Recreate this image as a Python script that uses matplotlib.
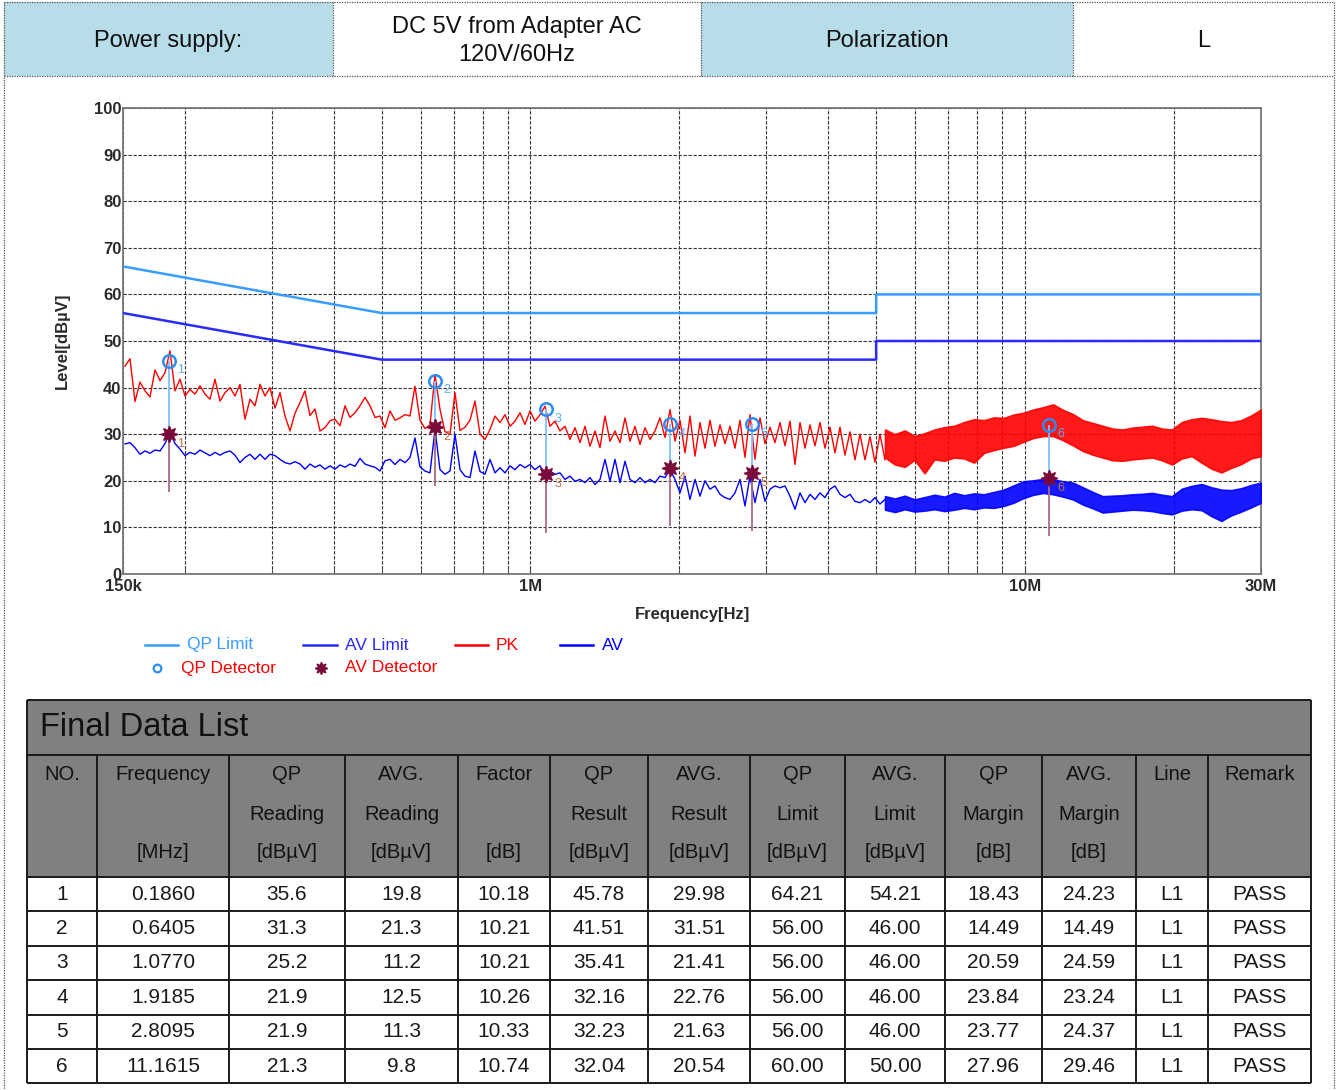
import numpy as np
import matplotlib
matplotlib.use("Agg")
import matplotlib.pyplot as plt
from matplotlib.patches import Rectangle
from matplotlib.ticker import FixedLocator, NullFormatter

plt.rcParams['font.family'] = ['Liberation Sans', 'DejaVu Sans']

# ---------------- data ----------------
header_labels = ["Power supply:", "DC 5V from Adapter AC\n120V/60Hz", "Polarization", "L"]

qp_limit_freq = [0.15, 0.5, 5.0, 5.0, 30.0]
qp_limit_level = [66, 56, 56, 60, 60]
av_limit_freq = [0.15, 0.5, 5.0, 5.0, 30.0]
av_limit_level = [56, 46, 46, 50, 50]

# log sweep of the analyser (MHz)
sweep_start_mhz = 0.1514
sweep_split_mhz = 5.21
sweep_stop_mhz = 30.0

pk_trace = [44.6, 46.2, 37.0, 41.2, 39.3, 38.0, 43.8, 41.5, 43.2, 47.9,
            39.3, 41.8, 38.2, 39.6, 38.6, 40.4, 38.6, 37.5, 41.8, 37.1,
            38.9, 40.0, 38.2, 40.7, 33.2, 37.5, 36.1, 40.7, 38.2, 40.0,
            35.6, 38.9, 33.9, 30.7, 34.5, 36.8, 39.3, 34.0, 35.4, 30.7,
            31.4, 32.9, 33.2, 31.8, 36.1, 33.6, 34.6, 36.1, 37.9, 36.1,
            33.6, 33.9, 31.4, 35.0, 33.0, 33.5, 34.2, 33.9, 40.3, 33.0,
            31.2, 32.0, 42.8, 35.3, 30.5, 30.0, 38.9, 30.8, 31.5, 33.0,
            37.1, 30.0, 28.9, 31.0, 33.9, 32.5, 34.2, 31.7, 32.8, 34.6,
            32.1, 35.0, 32.8, 34.2, 36.0, 31.7, 32.8, 30.7, 31.7, 28.9,
            31.4, 28.2, 31.7, 27.4, 30.7, 27.1, 33.9, 28.5, 30.7, 28.2,
            33.5, 28.5, 31.7, 27.8, 31.4, 28.9, 30.7, 33.5, 29.3, 35.3,
            28.5, 33.0, 26.0, 33.9, 25.3, 32.5, 27.0, 33.0, 27.4, 32.0,
            28.0, 31.7, 27.0, 33.0, 25.0, 34.2, 24.6, 33.5, 28.0, 31.5,
            28.2, 32.5, 27.5, 32.8, 23.5, 32.5, 27.0, 32.0, 27.5, 32.5,
            27.0, 31.5, 26.0, 31.5, 25.5, 30.5, 24.5, 30.0, 24.5, 29.5,
            24.0, 30.0, 24.5]

av_trace = [27.9, 28.2, 27.1, 25.7, 26.4, 25.9, 26.6, 26.4, 28.0, 30.4,
            28.0, 26.8, 25.4, 26.1, 25.7, 26.6, 26.0, 25.4, 26.1, 25.5,
            26.1, 26.4, 25.5, 23.9, 25.0, 25.7, 24.6, 25.7, 24.6, 25.7,
            25.4, 24.6, 23.9, 23.6, 24.1, 23.6, 22.5, 23.6, 22.9, 23.4,
            22.5, 23.2, 22.5, 23.4, 22.9, 23.6, 23.1, 24.8, 23.6, 23.2,
            22.9, 22.1, 24.3, 24.6, 23.5, 24.6, 23.9, 25.0, 29.2, 23.0,
            22.1, 21.7, 31.0, 22.4, 21.4, 22.1, 30.0, 22.4, 21.0, 20.7,
            26.4, 22.0, 21.4, 24.6, 21.7, 22.8, 21.7, 23.2, 22.4, 23.5,
            22.8, 23.5, 22.4, 23.2, 21.5, 22.1, 21.4, 21.7, 20.3, 21.0,
            19.9, 20.3, 19.6, 20.7, 19.2, 20.3, 24.6, 19.9, 24.6, 19.6,
            24.2, 20.3, 19.6, 20.7, 19.6, 20.3, 19.6, 21.0, 20.7, 22.4,
            20.3, 17.4, 21.0, 16.0, 20.3, 16.7, 20.0, 18.2, 18.9, 17.1,
            16.4, 16.0, 17.4, 20.3, 14.6, 21.0, 15.3, 20.3, 15.6, 18.2,
            18.9, 18.5, 18.9, 16.7, 13.9, 17.4, 15.3, 17.1, 16.0, 17.4,
            16.4, 18.2, 18.9, 17.1, 16.4, 17.1, 15.6, 15.3, 16.0, 15.3,
            16.4, 15.0, 16.0]

pk_band_hi = [31.0, 30.0, 30.8, 29.6, 30.2, 31.0, 31.5, 31.8, 32.6, 33.2,
              33.0, 33.6, 33.5, 34.2, 34.6, 35.3, 35.8, 36.4, 35.2, 34.3,
              33.0, 32.4, 31.8, 31.2, 31.0, 31.4, 31.6, 31.8, 31.2, 31.0,
              32.6, 33.2, 33.5, 33.2, 32.8, 32.6, 33.0, 34.0, 35.3]
pk_band_lo = [25.0, 23.5, 23.0, 24.5, 21.6, 24.6, 24.3, 25.0, 24.8, 23.9,
              26.0, 26.6, 27.1, 27.5, 28.4, 29.2, 29.6, 29.6, 28.7, 27.6,
              26.4, 25.6, 25.0, 24.4, 24.3, 24.6, 24.8, 25.0, 24.4, 23.5,
              24.8, 25.3, 23.9, 22.6, 21.8, 22.8, 23.6, 24.8, 25.3]
av_band_hi = [16.7, 16.2, 16.8, 16.0, 16.5, 17.0, 16.6, 17.4, 16.9, 17.3,
              17.1, 17.6, 18.1, 19.0, 19.9, 20.1, 20.4, 20.3, 19.9, 19.6,
              18.6, 17.6, 16.7, 16.8, 16.9, 17.1, 17.2, 17.4, 17.0, 16.7,
              18.3, 18.9, 19.3, 18.6, 18.1, 18.0, 18.4, 19.1, 19.6]
av_band_lo = [13.8, 13.3, 13.9, 13.4, 13.6, 13.9, 13.5, 13.8, 14.2, 13.9,
              14.3, 14.2, 14.6, 15.3, 16.3, 17.0, 17.4, 17.1, 16.6, 16.0,
              14.9, 14.1, 13.2, 13.4, 13.6, 13.8, 13.7, 13.5, 13.1, 12.8,
              13.6, 13.9, 13.7, 12.4, 11.4, 12.6, 13.4, 14.3, 15.3]

det_no = [1, 2, 3, 4, 5, 6]
det_freq = [0.1860, 0.6405, 1.0770, 1.9185, 2.8095, 11.1615]
qp_reading = [35.6, 31.3, 25.2, 21.9, 21.9, 21.3]
av_reading = [19.8, 21.3, 11.2, 12.5, 11.3, 9.8]
factor = [10.18, 10.21, 10.21, 10.26, 10.33, 10.74]
qp_result = [45.78, 41.51, 35.41, 32.16, 32.23, 32.04]
av_result = [29.98, 31.51, 21.41, 22.76, 21.63, 20.54]
qp_limit_pt = [64.21, 56.00, 56.00, 56.00, 56.00, 60.00]
av_limit_pt = [54.21, 46.00, 46.00, 46.00, 46.00, 50.00]
qp_margin = [18.43, 14.49, 20.59, 23.84, 23.77, 27.96]
av_margin = [24.23, 14.49, 24.59, 23.24, 24.37, 29.46]
line_name = ["L1", "L1", "L1", "L1", "L1", "L1"]
remark = ["PASS", "PASS", "PASS", "PASS", "PASS", "PASS"]
stem_bottom = [17.5, 18.9, 8.9, 10.3, 9.2, 8.2]

y_ticks = [0, 10, 20, 30, 40, 50, 60, 70, 80, 90, 100]
x_major = [0.15, 1, 10, 30]
x_major_labels = ["150k", "1M", "10M", "30M"]
x_minor = [0.2, 0.3, 0.4, 0.5, 0.6, 0.7, 0.8, 0.9, 2, 3, 4, 5, 6, 7, 8, 9, 20]

table_headers = [["NO.", "", ""], ["Frequency", "", "[MHz]"], ["QP", "Reading", "[dBµV]"],
                 ["AVG.", "Reading", "[dBµV]"], ["Factor", "", "[dB]"], ["QP", "Result", "[dBµV]"],
                 ["AVG.", "Result", "[dBµV]"], ["QP", "Limit", "[dBµV]"], ["AVG.", "Limit", "[dBµV]"],
                 ["QP", "Margin", "[dB]"], ["AVG.", "Margin", "[dB]"], ["Line", "", ""], ["Remark", "", ""]]

# ---------------- colours ----------------
C_QPLIM = '#3a9cff'
C_AVLIM = '#2a2aff'
C_PK = '#ff0000'
C_AV = '#0000ff'
C_QPDET = '#2e8cf0'
C_AVDET = '#7a0a3a'
HDR_BLUE = '#b7dde8'

W, H = 1338, 1090
fig = plt.figure(figsize=(W / 100, H / 100), dpi=100)
bg = fig.add_axes([0, 0, 1, 1])
bg.set_xlim(0, W)
bg.set_ylim(H, 0)
bg.axis('off')

dot = dict(color='#555555', lw=0.9, linestyle=(0, (1, 1)))

# header
hx = [4, 333, 701, 1073, 1334]
fills = [HDR_BLUE, 'white', HDR_BLUE, 'white']
for i in range(4):
    bg.add_patch(Rectangle((hx[i], 2), hx[i + 1] - hx[i], 74, facecolor=fills[i], edgecolor='none'))
    bg.text((hx[i] + hx[i + 1]) / 2, 41, header_labels[i], ha='center', va='center',
            fontsize=17, color='#111111', linespacing=1.3)
bg.plot([4, 1334], [2, 2], **dot)
bg.plot([4, 1334], [76, 76], **dot)
for x in hx[1:-1]:
    bg.plot([x, x], [2, 76], **dot)
bg.plot([4, 4], [2, 1090], **dot)
bg.plot([1334, 1334], [2, 1090], **dot)

# ---------------- plot ----------------
ax = fig.add_axes([123 / W, 1 - 574 / H, 1138 / W, 466 / H])
ax.set_xscale('log')
ax.set_xlim(0.15, 30)
ax.set_ylim(0, 100)

f_line = np.geomspace(sweep_start_mhz, sweep_split_mhz, len(pk_trace))
f_band = np.geomspace(sweep_split_mhz, sweep_stop_mhz, len(pk_band_hi))

ax.plot(f_line, pk_trace, color=C_PK, lw=1.0, zorder=3)
ax.fill_between(f_band, pk_band_lo, pk_band_hi, color=C_PK, alpha=0.9, lw=1.2, zorder=3)
ax.plot(f_line, av_trace, color=C_AV, lw=1.0, zorder=3)
ax.fill_between(f_band, av_band_lo, av_band_hi, color=C_AV, alpha=0.9, lw=1.2, zorder=3)

ax.plot(qp_limit_freq, qp_limit_level, color=C_QPLIM, lw=1.8, zorder=4)
ax.plot(av_limit_freq, av_limit_level, color=C_AVLIM, lw=1.8, zorder=4)

ax.vlines(det_freq, av_result, qp_result, color='#7fbfff', lw=1.3, zorder=5)
ax.vlines(det_freq, stem_bottom, av_result, color='#a86a88', lw=1.3, zorder=5)
ax.plot(det_freq, qp_result, 'o', mfc='none', mec=C_QPDET, ms=9, mew=1.8, zorder=6)
ax.plot(det_freq, av_result, marker=(8, 1, 0), ls='none', color=C_AVDET, ms=12, zorder=6)
for n, f, q, a in zip(det_no, det_freq, qp_result, av_result):
    ax.annotate(str(n), (f, q), xytext=(6, -7), textcoords='offset points', color='#5aaaf5',
                fontsize=9, va='center', zorder=7)
    ax.annotate(str(n), (f, a), xytext=(6, -7), textcoords='offset points', color='#c0704a',
                fontsize=9, va='center', zorder=7)

ax.set_yticks(y_ticks)
ax.xaxis.set_major_locator(FixedLocator(x_major))
ax.set_xticklabels(x_major_labels)
ax.xaxis.set_minor_locator(FixedLocator(x_minor))
ax.xaxis.set_minor_formatter(NullFormatter())
gridkw = dict(color='#333333', lw=0.8, linestyle=(0, (3, 1.5)))
ax.grid(True, which='both', axis='x', **gridkw)
ax.grid(True, which='major', axis='y', **gridkw)
ax.set_axisbelow(True)
ax.tick_params(axis='x', which='both', direction='in', length=4, color='#444444', pad=3.5)
ax.tick_params(axis='y', length=0, pad=1)
for lab in ax.get_xticklabels() + ax.get_yticklabels():
    lab.set_fontweight('bold')
    lab.set_fontsize(12)
    lab.set_color('#2a2a2a')
for s in ax.spines.values():
    s.set_color('#777777')
    s.set_linewidth(1.3)

bg.text(692, 615, "Frequency[Hz]", ha='center', va='center', fontsize=12, fontweight='bold', color='#2a2a2a')
bg.text(62, 341, "Level[dBµV]", ha='center', va='center', rotation=90, fontsize=12,
        fontweight='bold', color='#2a2a2a')

# ---------------- legend ----------------
ly1, ly2 = 645, 668
legend_row1 = [(145, 178, 187, "QP Limit", C_QPLIM, C_QPLIM),
               (303, 337, 345, "AV Limit", C_AVLIM, C_AVLIM),
               (455, 488, 496, "PK", C_PK, C_PK),
               (560, 593, 602, "AV", C_AV, C_AV)]
for x0, x1, xt, txt, lc, tc in legend_row1:
    bg.plot([x0, x1], [ly1, ly1], color=lc, lw=1.8)
    bg.text(xt, ly1, txt, color=tc, fontsize=12.5, va='center', ha='left')
bg.plot([157], [ly2], 'o', mfc='none', mec=C_QPDET, ms=5.5, mew=1.6)
bg.text(181, ly2, "QP Detector", color=C_PK, fontsize=12.5, va='center', ha='left')
bg.plot([321], [ly2], marker=(8, 1, 0), color=C_AVDET, ms=9)
bg.text(345, ly2, "AV Detector", color=C_PK, fontsize=12.5, va='center', ha='left')

# ---------------- table ----------------
col_edges = [27, 97, 229, 345, 458, 550, 648, 750, 845, 945, 1042, 1136, 1208, 1311]
t_top, t_title, t_head = 700, 755, 877
row_h = 34.4
n_rows = len(det_no)
t_bot = t_head + row_h * n_rows
bg.add_patch(Rectangle((col_edges[0], t_top), col_edges[-1] - col_edges[0], t_head - t_top,
                       facecolor='#808080', edgecolor='none'))
bg.add_patch(Rectangle((col_edges[0], t_head), col_edges[-1] - col_edges[0], t_bot - t_head,
                       facecolor='white', edgecolor='none'))
lk = dict(color='#1a1a1a', lw=1.4, solid_capstyle='butt')
bg.plot([col_edges[0], col_edges[-1]], [t_top, t_top], **lk)
bg.plot([col_edges[0], col_edges[-1]], [t_title, t_title], **lk)
for r in range(n_rows + 1):
    y = t_head + r * row_h
    bg.plot([col_edges[0], col_edges[-1]], [y, y], **lk)
bg.plot([col_edges[0], col_edges[0]], [t_top, t_bot], **lk)
bg.plot([col_edges[-1], col_edges[-1]], [t_top, t_bot], **lk)
for x in col_edges[1:-1]:
    bg.plot([x, x], [t_title, t_bot], **lk)
bg.text(40, 727, "Final Data List", fontsize=23.5, va='center', ha='left', color='#111111')

head_y = [775, 814, 853]
for c, lines in enumerate(table_headers):
    xc = (col_edges[c] + col_edges[c + 1]) / 2
    for k, t in enumerate(lines):
        if t:
            bg.text(xc, head_y[k], t, ha='center', va='center', fontsize=14.5, color='#111111')

columns = [
    [str(v) for v in det_no],
    [f"{v:.4f}" for v in det_freq],
    [f"{v:.1f}" for v in qp_reading],
    [f"{v:.1f}" for v in av_reading],
    [f"{v:.2f}" for v in factor],
    [f"{v:.2f}" for v in qp_result],
    [f"{v:.2f}" for v in av_result],
    [f"{v:.2f}" for v in qp_limit_pt],
    [f"{v:.2f}" for v in av_limit_pt],
    [f"{v:.2f}" for v in qp_margin],
    [f"{v:.2f}" for v in av_margin],
    line_name,
    remark,
]
for c, vals in enumerate(columns):
    xc = (col_edges[c] + col_edges[c + 1]) / 2
    for r, t in enumerate(vals):
        bg.text(xc, t_head + (r + 0.5) * row_h, t, ha='center', va='center', fontsize=15, color='#1a1a1a')

fig.savefig("out.png", dpi=100)
